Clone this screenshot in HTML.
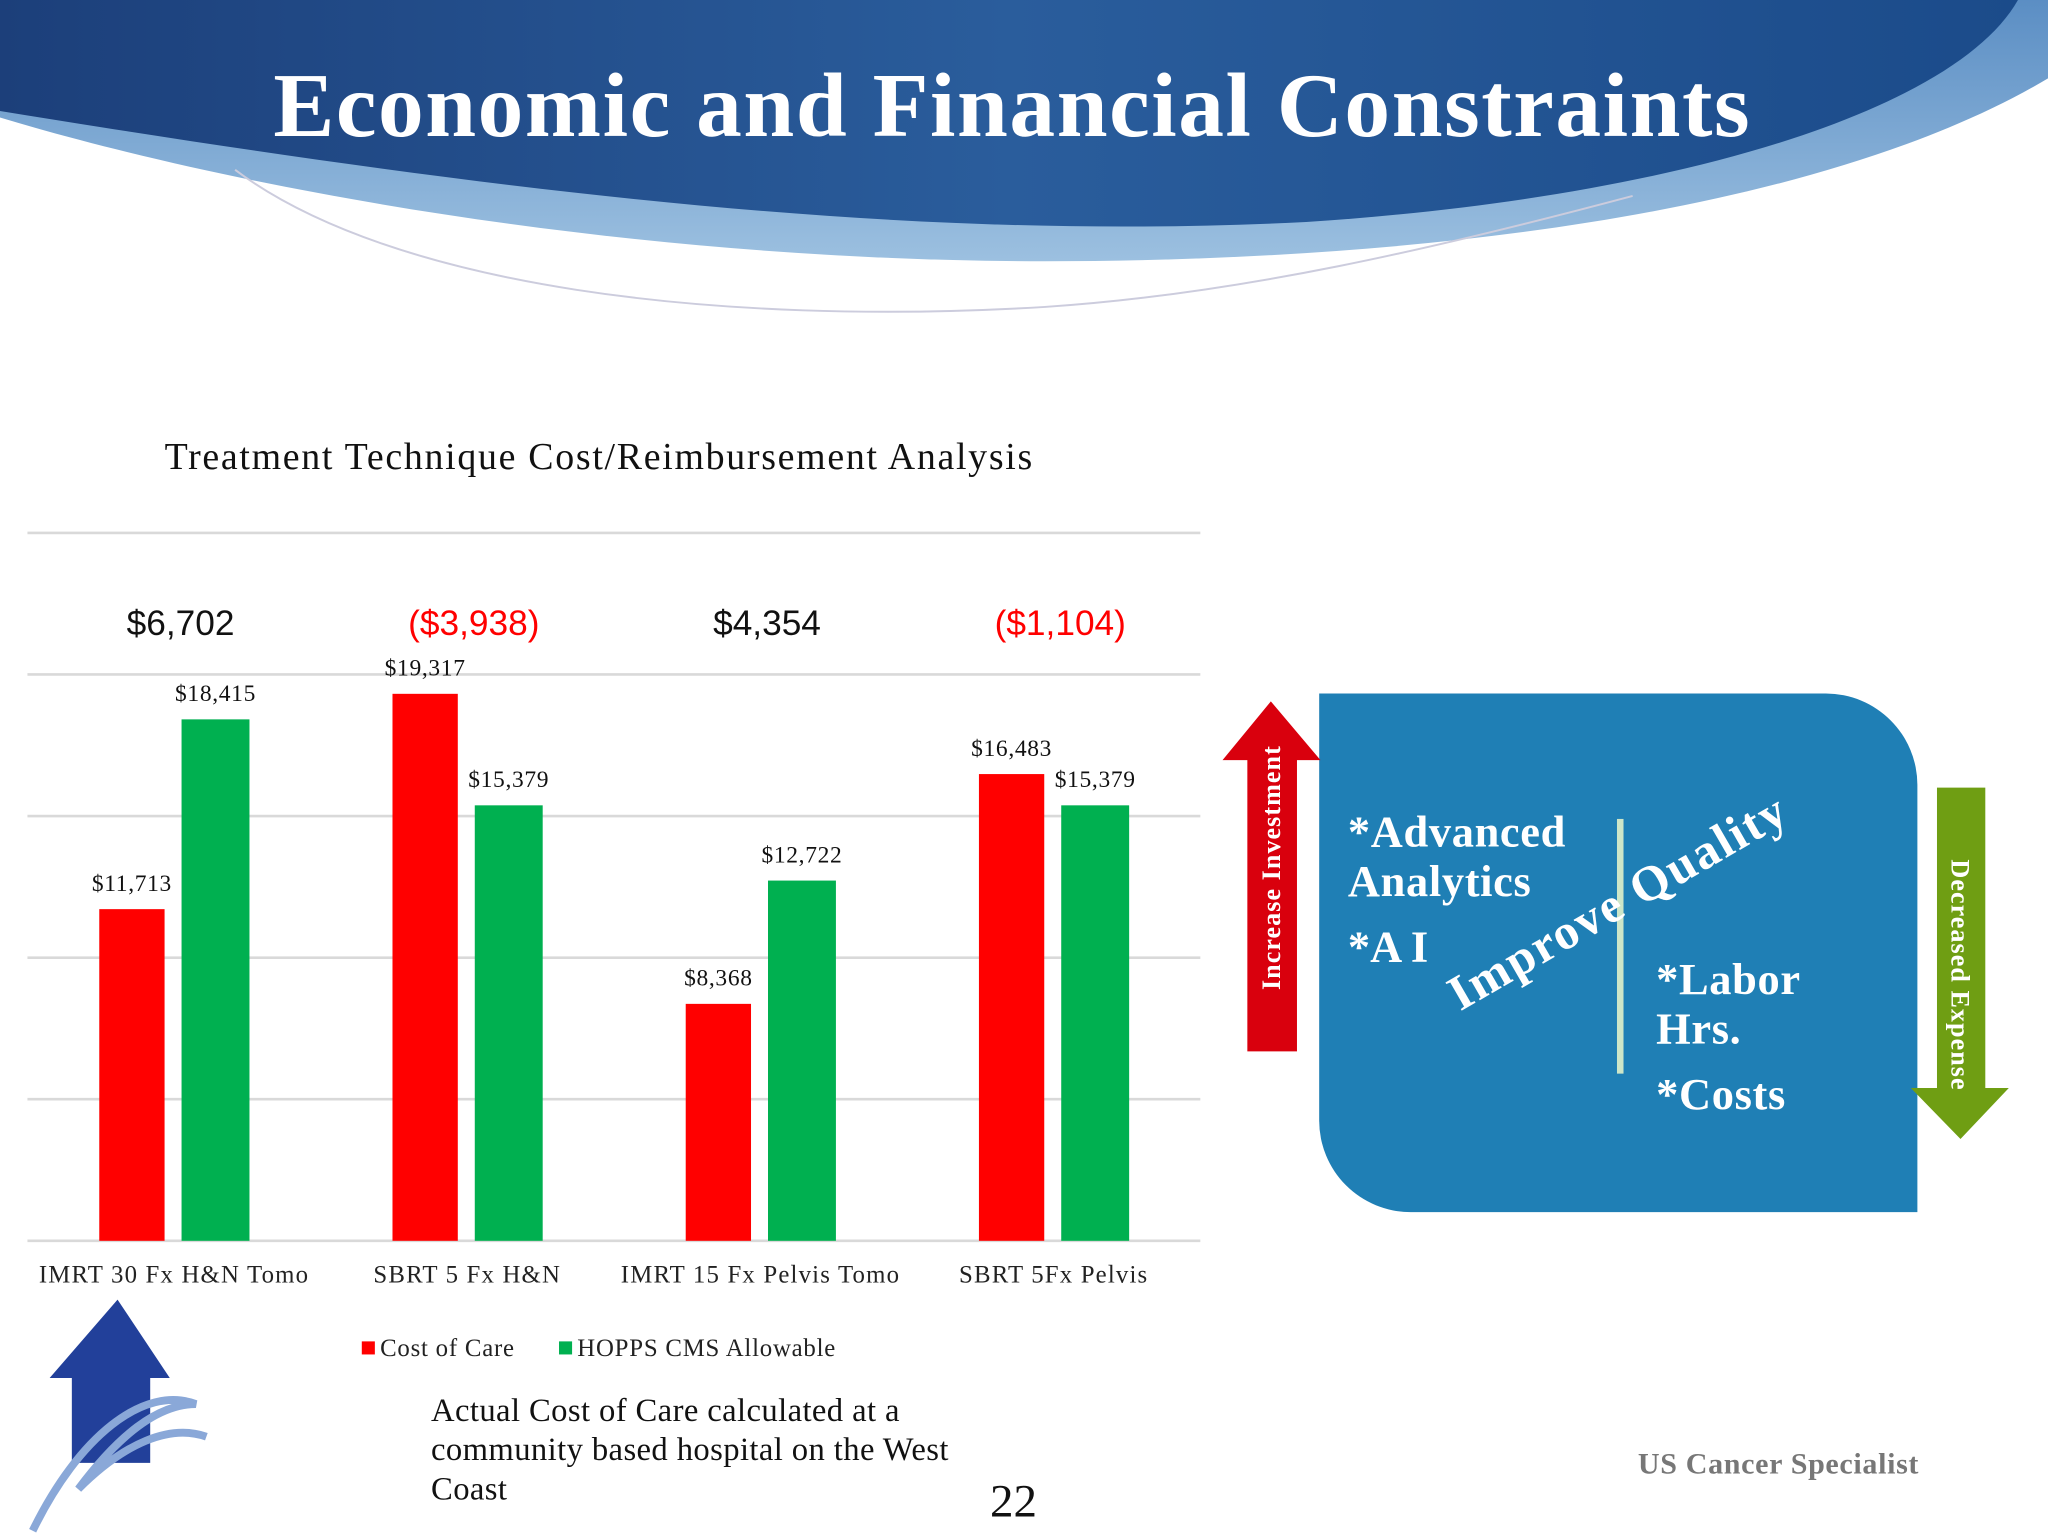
<!DOCTYPE html>
<html><head><meta charset="utf-8"><style>
html,body{margin:0;padding:0;background:#fff;overflow:hidden}
#wrap{width:1568px;height:1176px;position:relative;transform:scale(1.306122);transform-origin:0 0;font-family:"Liberation Serif",serif}
.abs{position:absolute}
</style></head><body>
<div id="wrap">
<svg class="abs" style="left:0;top:0" width="1568" height="260">
<defs><linearGradient id="hg" x1="0" y1="0" x2="1" y2="0"><stop offset="0" stop-color="#1c3f7a"/><stop offset="0.5" stop-color="#2a5d9c"/><stop offset="1" stop-color="#1b4b8a"/></linearGradient>
<linearGradient id="hg2" x1="0" y1="0" x2="0" y2="1"><stop offset="0" stop-color="#5b8ec4"/><stop offset="1" stop-color="#9cc0e0"/></linearGradient></defs>
<path d="M0,0 H1568 V60 C1400,160 1100,200 800,200 C500,200 200,150 0,90 Z" fill="url(#hg2)"/>
<path d="M0,0 H1545 C1500,80 1300,150 1000,170 C700,185 400,150 0,85 Z" fill="url(#hg)"/>
<path d="M180,130 C300,220 550,250 800,235 C950,225 1100,190 1250,150" fill="none" stroke="#ccd" stroke-width="1.5"/>
<text x="775" y="104" text-anchor="middle" font-family="Liberation Serif" font-weight="bold" font-size="70" letter-spacing="1.2" fill="#fff">Economic and Financial Constraints</text>
</svg>
<div class="abs" style="left:126px;top:334px;font-size:29px;letter-spacing:1.3px;color:#111">Treatment Technique Cost/Reimbursement Analysis</div>
<svg id="chart" class="abs" style="left:0;top:0" width="1568" height="1176"></svg>
<div class="abs" style="left:330px;top:1066px;font-size:25px;line-height:30px;color:#111;width:440px;letter-spacing:0.3px">Actual Cost of Care calculated at a community based hospital on the West Coast</div>
<div class="abs" style="left:758px;top:1128px;font-size:36px;color:#111">22</div>
<div class="abs" style="left:1254px;top:1108px;font-size:23px;font-weight:bold;color:#777;letter-spacing:0.5px">US Cancer Specialist</div>
<svg class="abs" style="left:0;top:990px" width="180" height="186">
<path d="M90,5 L130,65 H115 V130 H55 V65 H38 Z" fill="#22409a"/>
<path d="M25,182 C60,110 110,70 150,85 C120,85 90,110 60,150 C95,115 130,100 158,110" fill="none" stroke="#8aa8d8" stroke-width="6"/>
</svg>
<div class="abs" style="left:1010px;top:531px;width:458px;height:397px;background:#1f7fb5;border-radius:0 70px 0 70px"></div>
<div class="abs" style="left:1238px;top:627px;width:5px;height:195px;background:#cde6c8"></div>
<div class="abs" style="left:1032px;top:619px;font-size:34px;font-weight:bold;color:#fff;line-height:38px;letter-spacing:0.5px">*Advanced<br>Analytics</div>
<div class="abs" style="left:1032px;top:707px;font-size:34px;font-weight:bold;color:#fff">*A I</div>
<div class="abs" style="left:1268px;top:732px;font-size:34px;font-weight:bold;color:#fff;line-height:38px;letter-spacing:0.5px">*Labor<br>Hrs.</div>
<div class="abs" style="left:1268px;top:820px;font-size:34px;font-weight:bold;color:#fff;letter-spacing:0.5px">*Costs</div>
<div class="abs" style="left:1112px;top:742px;font-size:38px;font-weight:bold;color:#fff;transform:rotate(-30deg);transform-origin:0 50%;white-space:nowrap;letter-spacing:1.5px">Improve Quality</div>
<svg class="abs" style="left:930px;top:530px" width="90" height="285">
<path d="M43,7 L81,52 H63 V275 H25 V52 H6 Z" fill="#d9000d"/>
<text transform="translate(50,228) rotate(-90)" font-family="Liberation Serif" font-weight="bold" font-size="20" letter-spacing="0.8" fill="#fff">Increase Investment</text>
</svg>
<svg class="abs" style="left:1458px;top:600px" width="90" height="280">
<path d="M25,3 H62 V233 H80 L43,272 L5,233 H25 Z" fill="#6f9e13"/>
<text transform="translate(36,58) rotate(90)" font-family="Liberation Serif" font-weight="bold" font-size="20" letter-spacing="0.8" fill="#fff">Decreased Expense</text>
</svg>
<script>
const categories=["IMRT 30 Fx H&N Tomo","SBRT 5 Fx H&N","IMRT 15 Fx Pelvis Tomo","SBRT 5Fx Pelvis"];
const costOfCare=[11713,19317,8368,16483];
const hoppsAllowable=[18415,15379,12722,15379];
const margins=["$6,702","($3,938)","$4,354","($1,104)"];
const ticks=[0,5000,10000,15000,20000,25000];
const svg=document.getElementById('chart');const NS='http://www.w3.org/2000/svg';
const x0=21,x1=919,base=950,top0=408,maxV=25000;
const y=v=>base-(v/maxV)*(base-top0);
const gw=(x1-x0)/categories.length;
function mk(t,a,p){const e=document.createElementNS(NS,t);for(const k in a)e.setAttribute(k,a[k]);(p||svg).appendChild(e);return e;}
const fmt=v=>'$'+v.toLocaleString('en-US');
ticks.forEach(t=>{const l=mk('line',{x1:x0,x2:x1,y1:y(t),y2:y(t),stroke:'#d9d9d9','stroke-width':2});

});
categories.forEach((c,i)=>{const gx=x0+i*gw;
const r=mk('rect',{x:gx+55,y:y(costOfCare[i]),width:50,height:base-y(costOfCare[i]),fill:'#ff0000'});


const g=mk('rect',{x:gx+118,y:y(hoppsAllowable[i]),width:52,height:base-y(hoppsAllowable[i]),fill:'#00b050'});


const t1=mk('text',{x:gx+80,y:y(costOfCare[i])-14,'text-anchor':'middle','font-size':18,'letter-spacing':0.5,'font-family':'Liberation Serif',fill:'#111'});t1.textContent=fmt(costOfCare[i]);


const t2=mk('text',{x:gx+144,y:y(hoppsAllowable[i])-14,'text-anchor':'middle','font-size':18,'letter-spacing':0.5,'font-family':'Liberation Serif',fill:'#111'});t2.textContent=fmt(hoppsAllowable[i]);


const ct=mk('text',{x:gx+gw/2,y:982,'text-anchor':'middle','font-size':19,'letter-spacing':0.9,'font-family':'Liberation Serif',fill:'#222'});ct.textContent=c;


const m=mk('text',{x:gx+gw/2+5,y:486,'text-anchor':'middle','font-size':27,'font-family':'Liberation Sans',fill:margins[i].startsWith('(')?'#ff0000':'#111'});m.textContent=margins[i];

});
const lg=[['Cost of Care','#ff0000',277],['HOPPS CMS Allowable','#00b050',428]];
lg.forEach(l=>{const r=mk('rect',{x:l[2],y:1027,width:10,height:10,fill:l[1]});


const t=mk('text',{x:l[2]+14,y:1038,'font-size':19,'letter-spacing':0.6,'font-family':'Liberation Serif',fill:'#222'});t.textContent=l[0];

});
</script>
</div>
</body></html>
